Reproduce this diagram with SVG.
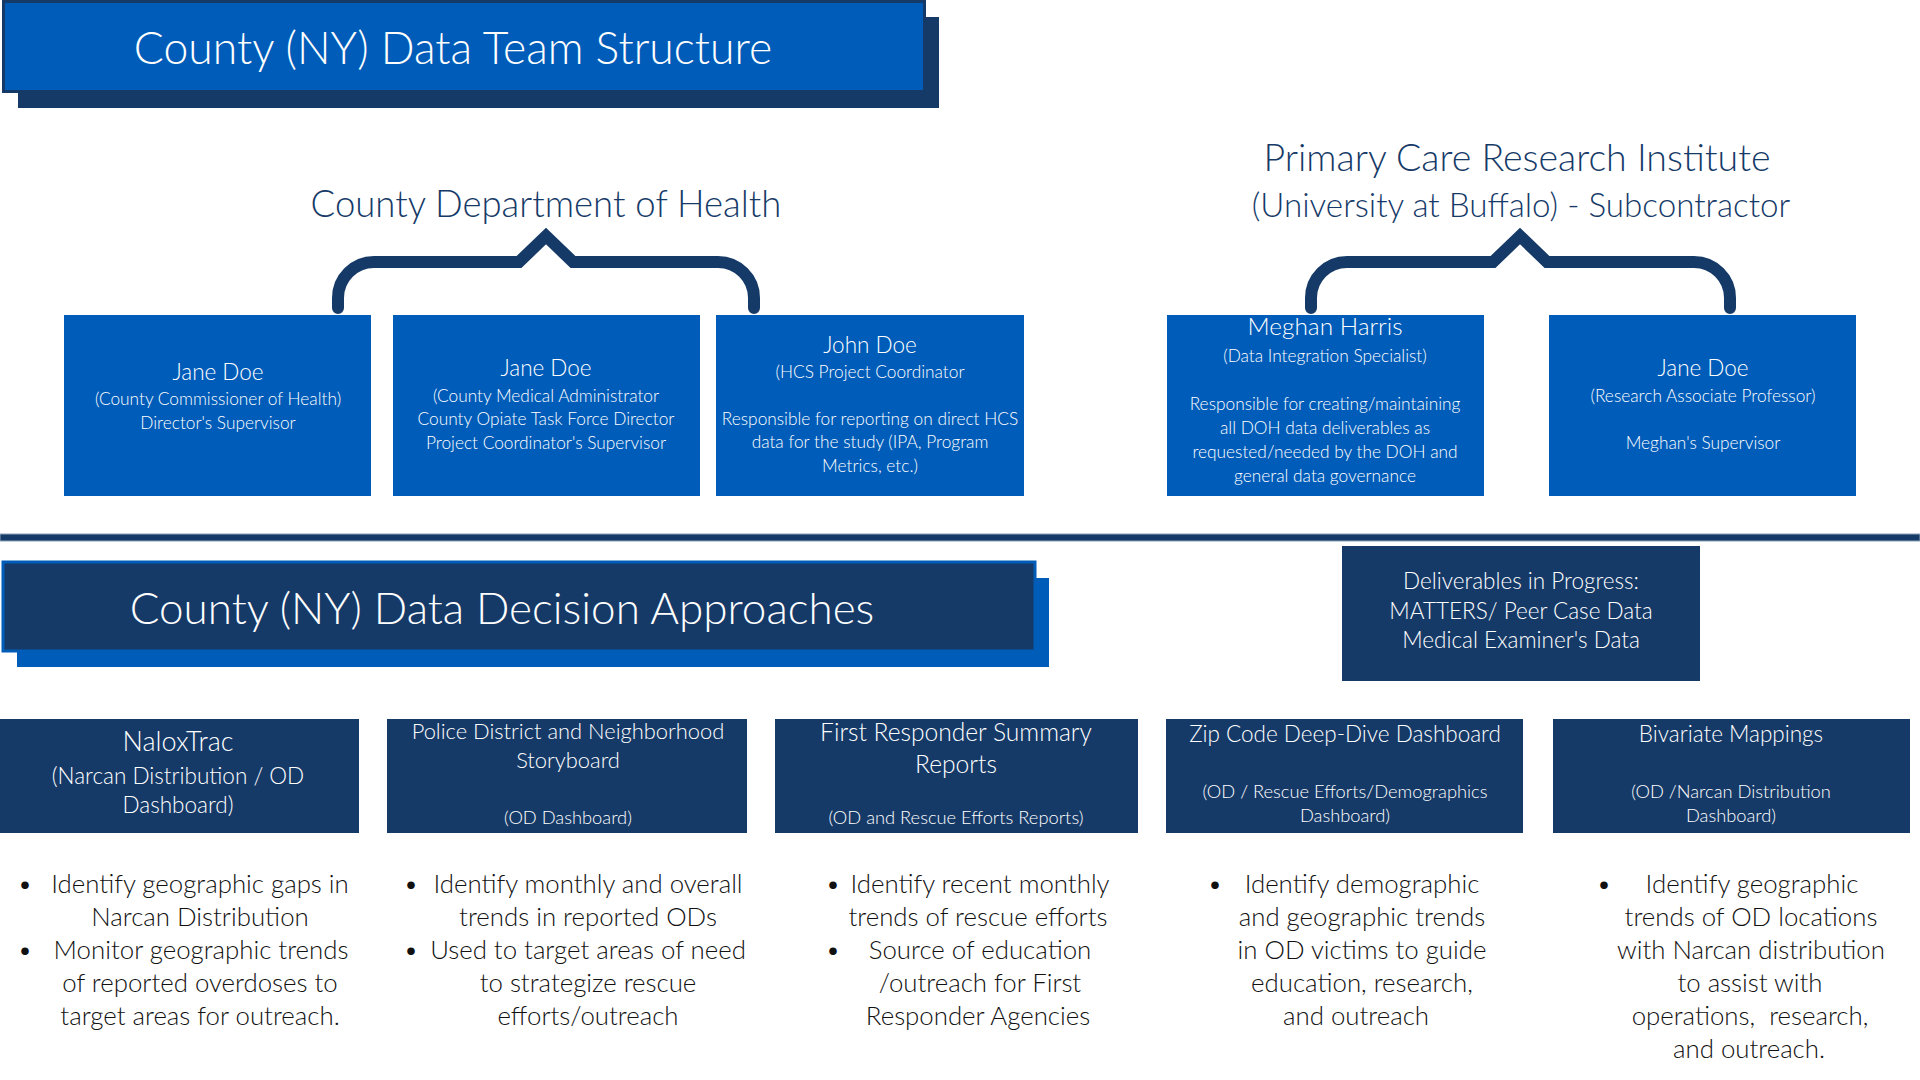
<svg xmlns="http://www.w3.org/2000/svg" width="1920" height="1080" viewBox="0 0 1920 1080">
<style>
text{font-family:Lato,"Open Sans","Liberation Sans",sans-serif;text-anchor:middle;font-weight:300}
.blue{fill:#005CB9}
.navy{fill:#163A68}
.w{fill:#FFFFFF}
.hd{fill:#163A68;font-size:37px}
.nm{font-size:22.5px;fill:#FFFFFF}
.sm{font-size:17.3px;fill:#FFFFFF}
.bh{font-size:22.5px;fill:#FFFFFF}
.bs{font-size:18.3px;fill:#FFFFFF}
.bl{font-size:25.8px;fill:#111111}
.brace{fill:none;stroke:#163A68;stroke-width:12;stroke-linecap:round;stroke-linejoin:miter}
</style>
<rect width="1920" height="1080" fill="#FFFFFF"/>

<g id="title-structure">
<rect x="18" y="17" width="921" height="91" class="navy"/>
<rect x="3.5" y="1.5" width="921" height="90" class="blue" stroke="#163A68" stroke-width="3"/>
<text x="453" y="64" class="w" style="font-size:44.5px">County (NY) Data Team Structure</text>
</g>

<g id="heading-doh">
<text x="546" y="217" class="hd" style="font-size:36.5px">County Department of Health</text>
</g>

<g id="heading-pcri">
<text x="1517" y="171" class="hd" style="font-size:37.5px">Primary Care Research Institute</text>
<text x="1521" y="217" class="hd" style="font-size:33.2px">(University at Buffalo) - Subcontractor</text>
</g>

<g id="connectors">
<path class="brace" d="M338,308 L338,298 A36,36 0 0 1 374,262 L519,262 L546,236 L573,262 L718,262 A36,36 0 0 1 754,298 L754,308"/>
<path class="brace" d="M1311,308 L1311,298 A36,36 0 0 1 1347,262 L1493,262 L1520,236 L1547,262 L1694,262 A36,36 0 0 1 1730,298 L1730,308"/>
</g>

<g id="node-jane-commissioner">
<rect x="64" y="315" width="307" height="181" class="blue"/>
<text x="218" y="380" class="nm">Jane Doe</text>
<text x="218" y="405" class="sm">(County Commissioner of Health)</text>
<text x="218" y="429" class="sm">Director's Supervisor</text>
</g>

<g id="node-jane-medical">
<rect x="393" y="315" width="307" height="181" class="blue"/>
<text x="546" y="376" class="nm">Jane Doe</text>
<text x="546" y="402" class="sm">(County Medical Administrator</text>
<text x="546" y="425" class="sm">County Opiate Task Force Director</text>
<text x="546" y="449" class="sm">Project Coordinator's Supervisor</text>
</g>

<g id="node-john">
<rect x="716" y="315" width="308" height="181" class="blue"/>
<text x="870" y="353" class="nm">John Doe</text>
<text x="870" y="378" class="sm">(HCS Project Coordinator</text>
<text x="870" y="425" class="sm">Responsible for reporting on direct HCS</text>
<text x="870" y="448" class="sm">data for the study (IPA, Program</text>
<text x="870" y="472" class="sm">Metrics, etc.)</text>
</g>

<g id="node-meghan">
<rect x="1167" y="315" width="317" height="181" class="blue"/>
<text x="1325" y="335" class="nm" style="font-size:24.4px">Meghan Harris</text>
<text x="1325" y="362" class="sm">(Data Integration Specialist)</text>
<text x="1325" y="410" class="sm">Responsible for creating/maintaining</text>
<text x="1325" y="434" class="sm">all DOH data deliverables as</text>
<text x="1325" y="458" class="sm">requested/needed by the DOH and</text>
<text x="1325" y="482" class="sm">general data governance</text>
</g>

<g id="node-jane-research">
<rect x="1549" y="315" width="307" height="181" class="blue"/>
<text x="1703" y="376" class="nm">Jane Doe</text>
<text x="1703" y="402" class="sm">(Research Associate Professor)</text>
<text x="1703" y="449" class="sm">Meghan's Supervisor</text>
</g>

<g id="divider">
<rect x="0" y="534" width="1920" height="7" class="navy" stroke="#8CA0B8" stroke-width="1"/>
</g>

<g id="title-approaches">
<rect x="17" y="578" width="1032" height="89" class="blue"/>
<rect x="3" y="562" width="1032" height="89" class="navy" stroke="#005CB9" stroke-width="3"/>
<text x="502" y="624" class="w" style="font-size:44px">County (NY) Data Decision Approaches</text>
</g>

<g id="node-deliverables">
<rect x="1342" y="546" width="358" height="135" class="navy"/>
<text x="1521" y="589" class="bh">Deliverables in Progress:</text>
<text x="1521" y="619" class="bh">MATTERS/ Peer Case Data</text>
<text x="1521" y="648" class="bh">Medical Examiner's Data</text>
</g>

<g id="node-naloxtrac">
<rect x="0" y="719" width="359" height="114" class="navy"/>
<text x="178" y="751" class="w" style="font-size:27px">NaloxTrac</text>
<text x="178" y="784" class="bh">(Narcan Distribution / OD</text>
<text x="178" y="813" class="bh">Dashboard)</text>
<text x="25" y="893" class="bl">•</text>
<text x="200" y="893" class="bl">Identify geographic gaps in</text>
<text x="200" y="926" class="bl">Narcan Distribution</text>
<text x="25" y="959" class="bl">•</text>
<text x="201" y="959" class="bl">Monitor geographic trends</text>
<text x="200" y="992" class="bl">of reported overdoses to</text>
<text x="200" y="1025" class="bl">target areas for outreach.</text>
</g>

<g id="node-police">
<rect x="387" y="719" width="360" height="114" class="navy"/>
<text x="568" y="739" class="bh" style="font-size:21.9px">Police District and Neighborhood</text>
<text x="568" y="768" class="bh" style="font-size:21.9px">Storyboard</text>
<text x="568" y="824" class="bs">(OD Dashboard)</text>
<text x="411" y="893" class="bl">•</text>
<text x="588" y="893" class="bl">Identify monthly and overall</text>
<text x="588" y="926" class="bl">trends in reported ODs</text>
<text x="411" y="959" class="bl">•</text>
<text x="588" y="959" class="bl">Used to target areas of need</text>
<text x="588" y="992" class="bl">to strategize rescue</text>
<text x="588" y="1025" class="bl">efforts/outreach</text>
</g>

<g id="node-first-responder">
<rect x="775" y="719" width="363" height="114" class="navy"/>
<text x="956" y="741" class="bh" style="font-size:24.6px">First Responder Summary</text>
<text x="956" y="773" class="bh" style="font-size:24.6px">Reports</text>
<text x="956" y="824" class="bs">(OD and Rescue Efforts Reports)</text>
<text x="833" y="893" class="bl">•</text>
<text x="980" y="893" class="bl">Identify recent monthly</text>
<text x="978" y="926" class="bl">trends of rescue efforts</text>
<text x="833" y="959" class="bl">•</text>
<text x="980" y="959" class="bl">Source of education</text>
<text x="980" y="992" class="bl">/outreach for First</text>
<text x="978" y="1025" class="bl">Responder Agencies</text>
</g>

<g id="node-zip">
<rect x="1166" y="719" width="357" height="114" class="navy"/>
<text x="1345" y="742" class="bh">Zip Code Deep-Dive Dashboard</text>
<text x="1345" y="798" class="bs">(OD / Rescue Efforts/Demographics</text>
<text x="1345" y="822" class="bs">Dashboard)</text>
<text x="1215" y="893" class="bl">•</text>
<text x="1362" y="893" class="bl">Identify demographic</text>
<text x="1362" y="926" class="bl">and geographic trends</text>
<text x="1362" y="959" class="bl">in OD victims to guide</text>
<text x="1362" y="992" class="bl">education, research,</text>
<text x="1356" y="1025" class="bl">and outreach</text>
</g>

<g id="node-bivariate">
<rect x="1553" y="719" width="357" height="114" class="navy"/>
<text x="1731" y="742" class="bh">Bivariate Mappings</text>
<text x="1731" y="798" class="bs">(OD /Narcan Distribution</text>
<text x="1731" y="822" class="bs">Dashboard)</text>
<text x="1604" y="893" class="bl">•</text>
<text x="1752" y="893" class="bl">Identify geographic</text>
<text x="1751" y="926" class="bl">trends of OD locations</text>
<text x="1751" y="959" class="bl">with Narcan distribution</text>
<text x="1750" y="992" class="bl">to assist with</text>
<text x="1750" y="1025" class="bl" xml:space="preserve">operations,  research,</text>
<text x="1749" y="1058" class="bl">and outreach.</text>
</g>
</svg>
